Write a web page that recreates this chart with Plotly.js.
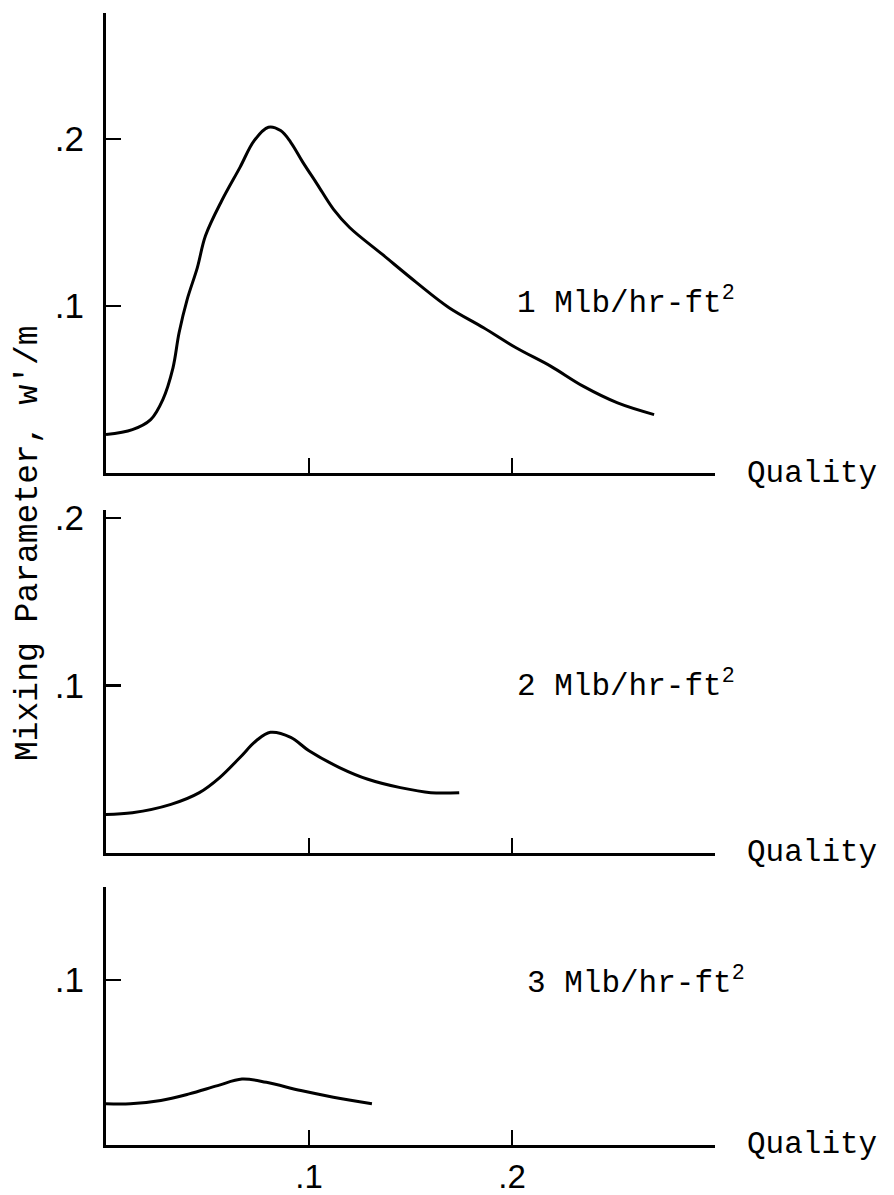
<!DOCTYPE html>
<html>
<head>
<meta charset="utf-8">
<script src="https://cdn.plot.ly/plotly-3.0.1.min.js"></script>
<style>html,body{margin:0;padding:0;background:#fff;}#chart{width:894px;height:1195px;}</style>
</head>
<body>
<div id="chart"></div>
<script>
// Panel 1: 1 Mlb/hr-ft2
const quality1 = [0, 0.013, 0.022, 0.028, 0.033, 0.036, 0.040, 0.045, 0.049, 0.057, 0.066, 0.073, 0.080, 0.086, 0.091, 0.097, 0.104, 0.112, 0.120, 0.136, 0.153, 0.169, 0.186, 0.202, 0.219, 0.235, 0.252, 0.270];
const mixing1  = [0.023, 0.026, 0.032, 0.044, 0.063, 0.084, 0.104, 0.123, 0.142, 0.163, 0.183, 0.199, 0.207, 0.205, 0.198, 0.186, 0.173, 0.158, 0.147, 0.131, 0.114, 0.099, 0.087, 0.075, 0.064, 0.052, 0.042, 0.035];
// Panel 2: 2 Mlb/hr-ft2
const quality2 = [0, 0.013, 0.032, 0.046, 0.056, 0.066, 0.074, 0.081, 0.091, 0.100, 0.115, 0.129, 0.145, 0.160, 0.174];
const mixing2  = [0.023, 0.024, 0.029, 0.036, 0.045, 0.057, 0.067, 0.072, 0.069, 0.061, 0.051, 0.044, 0.039, 0.036, 0.036];
// Panel 3: 3 Mlb/hr-ft2
const quality3 = [0, 0.012, 0.027, 0.041, 0.055, 0.067, 0.079, 0.096, 0.112, 0.131];
const mixing3  = [0.025, 0.025, 0.027, 0.031, 0.036, 0.040, 0.038, 0.033, 0.029, 0.025];

const panelLabels = ["1 Mlb/hr-ft<sup>2</sup>", "2 Mlb/hr-ft<sup>2</sup>", "3 Mlb/hr-ft<sup>2</sup>"];
const xTickVals = [0.1, 0.2];
const xTickText = [".1", ".2"];
const yTickVals1 = [0.1, 0.2];
const yTickText1 = [".1", ".2"];
const yTickVals2 = [0.1, 0.2];
const yTickText2 = [".1", ".2"];
const yTickVals3 = [0.1];
const yTickText3 = [".1"];
const xAxisLabel = "Quality";
const yAxisLabel = "Mixing Parameter, w'/m";

const lineStyle = {color: '#000', width: 3, shape: 'spline', smoothing: 1};
const traces = [
  {x: quality1, y: mixing1, xaxis: 'x', yaxis: 'y', mode: 'lines', line: lineStyle, hoverinfo: 'skip'},
  {x: quality2, y: mixing2, xaxis: 'x2', yaxis: 'y2', mode: 'lines', line: lineStyle, hoverinfo: 'skip'},
  {x: quality3, y: mixing3, xaxis: 'x3', yaxis: 'y3', mode: 'lines', line: lineStyle, hoverinfo: 'skip'}
];

const tickFont = {family: 'Liberation Sans, Arial, sans-serif', size: 35, color: '#000'};
const xTickFont = {family: 'Liberation Sans, Arial, sans-serif', size: 33, color: '#000'};
const monoFont = {family: 'Liberation Mono, DejaVu Sans Mono, monospace', size: 31, color: '#000'};
const titleFont = {family: 'Liberation Mono, DejaVu Sans Mono, monospace', size: 33, color: '#000'};

function xax(anchor, showLabels) {
  return {
    anchor: anchor, domain: [0, 1], range: [0, 0.3], showgrid: false, zeroline: false,
    showline: true, linecolor: '#000', linewidth: 3,
    ticks: 'inside', ticklen: 15, tickwidth: 2.5, tickcolor: '#000',
    tickvals: xTickVals, ticktext: xTickText, showticklabels: showLabels,
    tickfont: xTickFont, ticklabelstandoff: 0, fixedrange: true
  };
}
function yax(anchor, domain, top, vals, text) {
  return {
    anchor: anchor, domain: domain, range: [0, top], showgrid: false, zeroline: false,
    showline: true, linecolor: '#000', linewidth: 3,
    ticks: 'inside', ticklen: 15, tickwidth: 2.5, tickcolor: '#000',
    tickvals: vals, ticktext: text, tickfont: tickFont, ticklabelstandoff: 12, fixedrange: true
  };
}

const annotations = [];
const refs = [['x', 'y', 0.1030], ['x2', 'y2', 0.1010], ['x3', 'y3', 0.0995]];
const labelX = [0.2015, 0.2015, 0.2064];
refs.forEach((r, i) => {
  annotations.push({xref: 'paper', yref: r[1], x: 1.049, y: 0, xanchor: 'left', yanchor: 'middle',
    text: xAxisLabel, showarrow: false, font: monoFont});
  annotations.push({xref: r[0], yref: r[1], x: labelX[i], y: r[2], xanchor: 'left', yanchor: 'middle',
    text: panelLabels[i], showarrow: false, font: monoFont});
});
annotations.push({xref: 'paper', yref: 'paper', x: -0.126, y: 0.532, xanchor: 'center', yanchor: 'middle',
  text: yAxisLabel, textangle: -90, showarrow: false, font: titleFont});

const layout = {
  width: 894, height: 1195,
  margin: {l: 106, r: 179, t: 13, b: 50},
  paper_bgcolor: '#fff', plot_bgcolor: '#fff',
  showlegend: false,
  xaxis: xax('y', false),
  xaxis2: xax('y2', false),
  xaxis3: xax('y3', true),
  yaxis: yax('x', [0.5936, 1], 0.2754, yTickVals1, yTickText1),
  yaxis2: yax('x2', [0.2580, 0.5610], 0.2048, yTickVals2, yTickText2),
  yaxis3: yax('x3', [0, 0.2279], 0.1564, yTickVals3, yTickText3),
  annotations: annotations
};

Plotly.newPlot('chart', traces, layout, {staticPlot: true, displayModeBar: false});
</script>
</body>
</html>
